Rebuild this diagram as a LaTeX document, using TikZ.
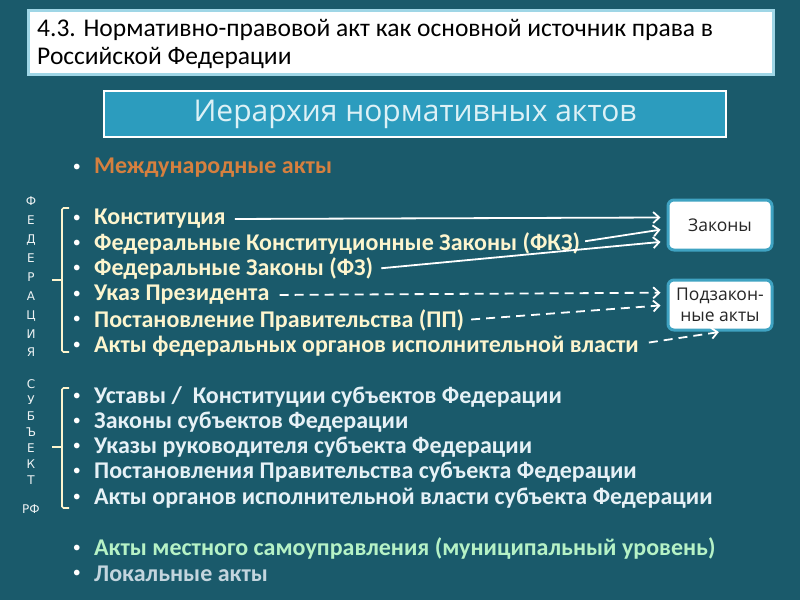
\documentclass[tikz,border=0pt]{standalone}
\usepackage{fontspec}
\setmainfont{Carlito}
\newfontfamily\boxfont{Open Sans}
\newfontfamily\letfont{DejaVu Sans}
\usetikzlibrary{arrows.meta}
\definecolor{bg}{HTML}{1A5A6B}
\definecolor{frame}{HTML}{9FD6E6}
\definecolor{head}{HTML}{2C9CBE}
\definecolor{headtxt}{HTML}{DDF1F6}
\definecolor{intl}{HTML}{D6803F}
\definecolor{fed}{HTML}{FDF5CE}
\definecolor{subj}{HTML}{E6F1F6}
\definecolor{mun}{HTML}{B6F2C6}
\definecolor{loc}{HTML}{C3D5DE}
\definecolor{boxline}{HTML}{3FA3C2}
\begin{document}
\begin{tikzpicture}[x=1pt,y=-1pt]
\tikzstyle{item}=[anchor=west,inner sep=0pt,font=\fontsize{24}{24}\selectfont\bfseries,
  label={[text=white,inner sep=0pt,font=\fontsize{16}{16}\selectfont,label distance=13pt]left:•}]
\tikzstyle{target}=[draw=boxline,line width=3pt,fill=white,rounded corners=6pt,minimum width=104pt,
  minimum height=50pt,align=center,font=\boxfont\fontsize{17.5}{21}\selectfont,text=black!85]
\tikzstyle{law}=[draw=white,line width=1.8pt,-{Straight Barb[length=6pt,width=11pt]},shorten >=6pt]
\tikzstyle{sub}=[law,dash pattern=on 9pt off 6pt]
\tikzstyle{brace}=[draw=fed,line width=1.6pt,rounded corners=1.5pt]
\tikzstyle{vert}=[align=center,inner sep=0pt,text=white!92!bg,font=\letfont\fontsize{12}{18.9}\selectfont]
\fill[bg] (0,0) rectangle (800,600);
\useasboundingbox (0,0) rectangle (800,600);
\node[draw=frame,line width=3pt,fill=white,minimum width=745pt,minimum height=64pt,anchor=north west] (title) at (27,9) {};
\node[anchor=west,align=left,inner sep=0pt,font=\fontsize{25.5}{28}\selectfont] at (37,44)
  {4.3. Нормативно-правовой акт как основной источник права в\\Российской Федерации};
\node[draw=white,line width=2.5pt,fill=head,minimum width=622pt,minimum height=46pt,text=headtxt,
  font=\boxfont\fontsize{30}{30}\selectfont] (hier) at (415,114) {Иерархия нормативных актов};
\node[item,text=intl] (ma) at (94,168) {Международные акты};
\node[item,text=fed] (k1) at (94,219) {Конституция};
\node[item,text=fed] (k2) at (94,244) {Федеральные Конституционные Законы (ФКЗ)};
\node[item,text=fed] (k3) at (94,269) {Федеральные Законы (ФЗ)};
\node[item,text=fed] (k4) at (94,295) {Указ Президента};
\node[item,text=fed] (k5) at (94,320) {Постановление Правительства (ПП)};
\node[item,text=fed] (k6) at (94,346) {Акты федеральных органов исполнительной власти};
\node[item,text=subj] (s1) at (94,397) {Уставы / \ Конституции субъектов Федерации};
\node[item,text=subj] (s2) at (94,422) {Законы субъектов Федерации};
\node[item,text=subj] (s3) at (94,447) {Указы руководителя субъекта Федерации};
\node[item,text=subj] (s4) at (94,472) {Постановления Правительства субъекта Федерации};
\node[item,text=subj] (s5) at (94,498) {Акты органов исполнительной власти субъекта Федерации};
\node[item,text=mun] (m1) at (94,549) {Акты местного самоуправления (муниципальный уровень)};
\node[item,text=loc] (m2) at (94,574) {Локальные акты};
\node[target] (zak) at (720,225) {Законы};
\node[target] (pod) at (720,305) {Подзакон-\\ные акты};
\draw[law,shorten <=9pt] (k1.east) -- (zak.172);
\draw[law,shorten <=5pt] ([yshift=2pt]k2.east) -- (zak.184);
\draw[law,shorten <=8pt] (k3.east) -- (zak.197);
\draw[sub,shorten <=10pt] (k4.east) -- (pod.167);
\draw[sub,shorten <=7pt] (k5.east) -- (pod.180);
\draw[sub,shorten <=10pt,shorten >=4pt] ([yshift=2pt]k6.east) -- (pod.-84);
\node[vert] (fedr) at (31,277) {Ф\\Е\\Д\\Е\\Р\\А\\Ц\\И\\Я};
\node[vert,font=\letfont\fontsize{12}{16}\selectfont] (subr) at (31,432) {С\\У\\Б\\Ъ\\Е\\К\\Т};
\node[vert] (rf) at (31,509) {РФ};
\path[brace] (69,208) -| (62,352) -- (69,352) (62,280) -- (52,280);
\path[brace] (69,388) -| (62,508) -- (69,508) (62,447) -- (52,447);
\end{tikzpicture}
\end{document}
